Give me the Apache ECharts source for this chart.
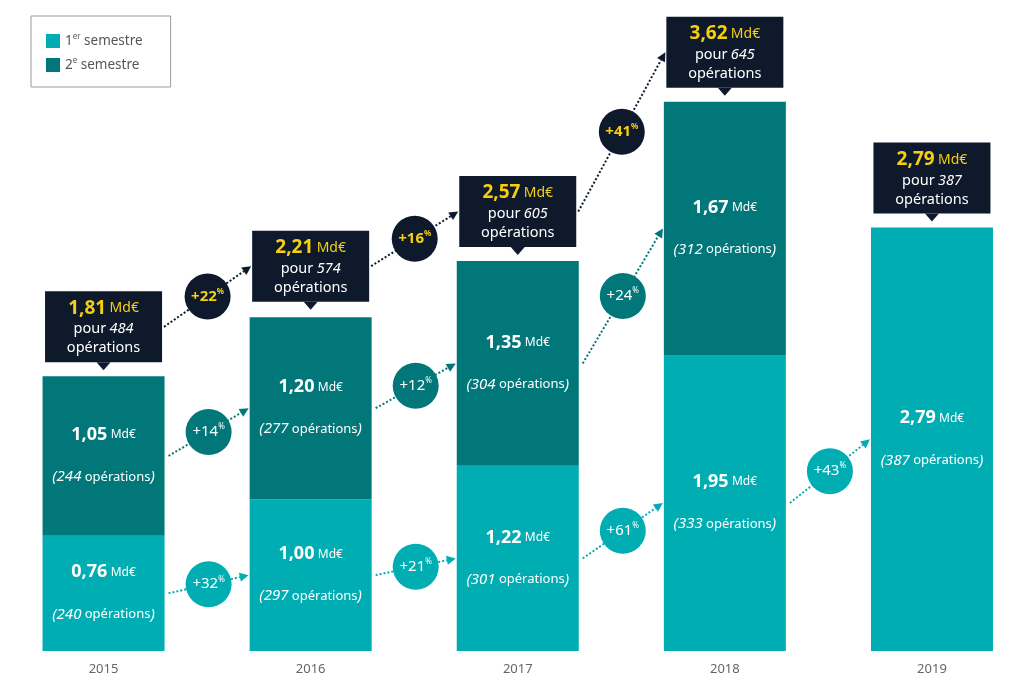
<!DOCTYPE html>
<html><head><meta charset="utf-8">
<script src="https://cdn.jsdelivr.net/npm/echarts@6/dist/echarts.min.js"></script>
<style>html,body{margin:0;padding:0;background:#fff}#c{width:1024px;height:694px}</style>
</head><body><div id="c"></div>
<script>
var years = ['2015','2016','2017','2018','2019'];
var seriesNames = ['1er semestre','2e semestre'];
var s1Values = [0.76, 1.00, 1.22, 1.95, 2.79];
var s2Values = [1.05, 1.20, 1.35, 1.67, null];
var totalValues = [1.81, 2.21, 2.57, 3.62, 2.79];
var s1Ops = [240, 297, 301, 333, 387];
var s2Ops = [244, 277, 304, 312, null];
var totalOps = [484, 574, 605, 645, 387];
var s1Growth = ['+32', '+21', '+61', '+43'];
var s2Growth = ['+14', '+12', '+24'];
var totalGrowth = ['+22', '+16', '+41'];

var LIGHT = '#00ADB2', DARK = '#01777A', NAVY = '#0E1A2C', YELLOW = '#F7CF0F';
var FONT = 'Noto Sans';
var BAR_W = 122, BOX_W = 117, BOX_H = 71, BOX_GAP = 14;

function fmt(v){ return v.toFixed(2).replace('.', ','); }

var arrowList = [];
s1Growth.forEach(function(t,k){ arrowList.push({i:k, kind:0, text:t}); });
s2Growth.forEach(function(t,k){ arrowList.push({i:k, kind:1, text:t}); });
totalGrowth.forEach(function(t,k){ arrowList.push({i:k, kind:2, text:t}); });

var barRich = {
  v: {fontSize: 18, fontWeight: 'bold', color: '#fff', fontFamily: FONT, lineHeight: 21},
  u: {fontSize: 12, color: '#fff', fontFamily: FONT, lineHeight: 21},
  e: {fontSize: 10, lineHeight: 21},
  n: {fontSize: 15, fontStyle: 'italic', color: '#fff', fontFamily: FONT, lineHeight: 21},
  p: {fontSize: 13, color: '#fff', fontFamily: FONT, lineHeight: 21}
};
function barLabel(ops){
  return function(p){
    if (p.value == null) return '';
    return '{v|' + fmt(p.value) + '} {u|Md€}\n{e| }\n{n|(' + ops[p.dataIndex] + '} {p|opérations}{n|)}';
  };
}

function boxItem(params, api){
  var i = api.value(0);
  var top = api.coord([i, api.value(1)]);
  var cx = top[0];
  var by = top[1] - BOX_GAP - BOX_H;
  return {type: 'group', children: [
    {type: 'rect', shape: {x: cx - BOX_W/2, y: by, width: BOX_W, height: BOX_H}, style: {fill: NAVY}},
    {type: 'polygon', shape: {points: [[cx-7, by+BOX_H], [cx+7, by+BOX_H], [cx, by+BOX_H+8]]}, style: {fill: NAVY}},
    {type: 'text', x: cx, y: by + 17, style: {
      text: '{a|' + fmt(totalValues[i]) + '} {b|Md€}', align: 'center', verticalAlign: 'middle',
      rich: {a: {fontSize: 19, fontWeight: 'bold', fill: YELLOW, fontFamily: FONT},
             b: {fontSize: 14, fill: YELLOW, fontFamily: FONT}}}},
    {type: 'text', x: cx, y: by + 38, style: {
      text: '{a|pour} {b|' + totalOps[i] + '}', align: 'center', verticalAlign: 'middle',
      rich: {a: {fontSize: 14.5, fill: '#fff', fontFamily: FONT},
             b: {fontSize: 14.5, fontStyle: 'italic', fill: '#fff', fontFamily: FONT}}}},
    {type: 'text', x: cx, y: by + 57, style: {
      text: 'opérations', align: 'center', verticalAlign: 'middle',
      fontSize: 14.5, fill: '#fff', fontFamily: FONT}}
  ]};
}

function arrowItem(params, api){
  var a = arrowList[params.dataIndex];
  var i = a.i, p0, p1, color, txtColor, bold, half0, half1;
  if (a.kind === 0) {
    p0 = api.coord([i, s1Values[i]/2]); p1 = api.coord([i+1, s1Values[i+1]/2]);
    color = LIGHT; txtColor = '#fff'; bold = 'normal'; half0 = BAR_W/2 + 4; half1 = BAR_W/2 + 1;
  } else if (a.kind === 1) {
    p0 = api.coord([i, s1Values[i] + s2Values[i]/2]); p1 = api.coord([i+1, s1Values[i+1] + s2Values[i+1]/2]);
    color = DARK; txtColor = '#fff'; bold = 'normal'; half0 = BAR_W/2 + 4; half1 = BAR_W/2 + 1;
  } else {
    p0 = api.coord([i, totalValues[i]]); p1 = api.coord([i+1, totalValues[i+1]]);
    p0 = [p0[0], p0[1] - BOX_GAP - BOX_H/2]; p1 = [p1[0], p1[1] - BOX_GAP - BOX_H/2];
    color = NAVY; txtColor = YELLOW; bold = 'bold'; half0 = BOX_W/2 + 2; half1 = BOX_W/2 + 1;
  }
  var x0 = p0[0] + half0, y0 = p0[1], x1 = p1[0] - half1, y1 = p1[1];
  var ang = Math.atan2(y1 - y0, x1 - x0), c = Math.cos(ang), s = Math.sin(ang);
  var L = 9, W = 4.5;
  var bx = x1 - L*c, by = y1 - L*s;
  var mx = (x0 + x1)/2, my = (y0 + y1)/2;
  return {type: 'group', children: [
    {type: 'line', shape: {x1: x0, y1: y0, x2: bx, y2: by}, style: {stroke: color, lineWidth: 2, lineDash: [2, 2]}},
    {type: 'polygon', shape: {points: [[x1, y1], [bx - W*s, by + W*c], [bx + W*s, by - W*c]]}, style: {fill: color}},
    {type: 'circle', shape: {cx: mx, cy: my, r: 23}, style: {fill: color}},
    {type: 'text', x: mx, y: my, style: {
      text: '{n|' + a.text + '}{s|%}', align: 'center', verticalAlign: 'middle',
      rich: {n: {fontSize: 15, fontWeight: bold, fill: txtColor, fontFamily: FONT, lineHeight: 18},
             s: {fontSize: 8, fontWeight: bold, fill: txtColor, fontFamily: FONT, verticalAlign: 'top', lineHeight: 18}}}}
  ]};
}

var chart = echarts.init(document.getElementById('c'), null, {renderer: 'canvas'});
chart.setOption({
  animation: false,
  backgroundColor: '#fff',
  legend: {
    orient: 'vertical', left: 31, top: 16,
    padding: [17, 28, 15, 15],
    borderColor: '#9a9a9a', borderWidth: 1,
    itemWidth: 14, itemHeight: 14, itemGap: 9,
    icon: 'rect',
    data: seriesNames,
    formatter: function(name){
      return name === seriesNames[0] ? '1{sup|er} semestre' : '2{sup|e} semestre';
    },
    textStyle: {fontSize: 13.5, color: '#555', fontFamily: FONT,
      rich: {sup: {fontSize: 8, color: '#555', fontFamily: FONT, verticalAlign: 'top', lineHeight: 16}}}
  },
  grid: {left: 0, width: 1035.5, top: 44, height: 607, containLabel: false, outerBoundsMode: 'none'},
  xAxis: {
    type: 'category', data: years,
    axisLine: {show: false}, axisTick: {show: false},
    axisLabel: {fontSize: 13, color: '#666', fontFamily: FONT, margin: 12}
  },
  yAxis: {type: 'value', min: 0, max: 4, show: false, splitLine: {show: false}},
  series: [
    {name: seriesNames[0], type: 'bar', stack: 't', barWidth: BAR_W, data: s1Values,
     itemStyle: {color: LIGHT},
     label: {show: true, position: 'inside', formatter: barLabel(s1Ops), rich: barRich}},
    {name: seriesNames[1], type: 'bar', stack: 't', barWidth: BAR_W, data: s2Values,
     itemStyle: {color: DARK},
     label: {show: true, position: 'inside', formatter: barLabel(s2Ops), rich: barRich}},
    {type: 'custom', renderItem: boxItem, data: totalValues.map(function(v, i){ return [i, v]; }), z: 5},
    {type: 'custom', renderItem: arrowItem, data: arrowList.map(function(a){ return [a.i, a.kind]; }), z: 6}
  ]
});
</script></body></html>
